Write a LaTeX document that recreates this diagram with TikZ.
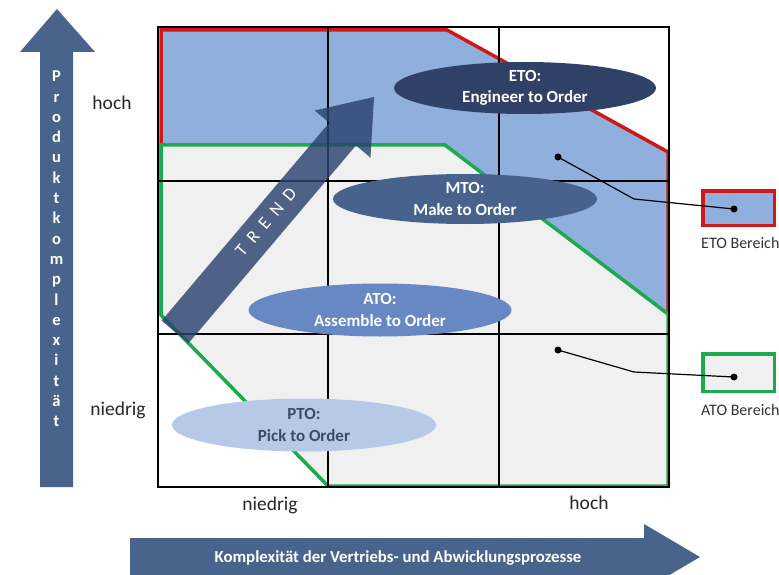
\documentclass[tikz,border=0pt]{standalone}
\usepackage{fontspec}
\setmainfont{Carlito}
\usetikzlibrary{shapes.geometric}
\definecolor{axisblue}{HTML}{48648C}
\definecolor{etoblue}{HTML}{2F4166}
\definecolor{mtoblue}{HTML}{46628D}
\definecolor{atoblue}{HTML}{6788C2}
\definecolor{ptoblue}{HTML}{B6CAE8}
\definecolor{ptotext}{HTML}{3B4B6E}
\definecolor{areablue}{HTML}{8FB0DC}
\definecolor{areagray}{HTML}{F0F0F0}
\definecolor{etored}{HTML}{D01818}
\definecolor{atogreen}{HTML}{1DAA4E}
\definecolor{trendblue}{HTML}{2B4270}
\begin{document}
\begin{tikzpicture}[x=1pt,y=-1pt,
  lab/.style={font=\fontsize{19.5}{22}\selectfont, text=black!85, inner sep=0pt},
  ell/.style={ellipse, inner sep=0pt, align=center, minimum width=263pt, minimum height=52pt, font=\fontsize{17}{21.5}\selectfont\bfseries},
  gridline/.style={line width=1.4pt, black},
  axisarrow/.style={fill=axisblue},
  dotnode/.style={circle, fill=black, minimum size=7pt, inner sep=0pt},
  conn/.style={line width=1.2pt, black},
  legbox/.style={line width=3.5pt, minimum width=71.5pt, inner sep=0pt},
  leglab/.style={font=\fontsize{16}{18}\selectfont, text=black!80, inner sep=0pt, anchor=west}]
\useasboundingbox (0,0) rectangle (779,575);

% axis arrows
\fill[axisarrow] (40,487) -- (40,52) -- (20,52) -- (57,9) -- (95,52) -- (73,52) -- (73,487) -- cycle;
\node[inner sep=0pt, align=center, text=white, font=\fontsize{16.5}{20.3}\selectfont\bfseries] (yaxis) at (56.5,249)
  {P\\r\\o\\d\\u\\k\\t\\k\\o\\m\\p\\l\\e\\x\\i\\t\\ä\\t};
\fill[axisarrow] (130,538) -- (644,538) -- (644,524) -- (700,557) -- (644,590) -- (644,576) -- (130,576) -- cycle;
\node[inner sep=0pt, text=white, font=\fontsize{16.8}{19}\selectfont\bfseries] (xaxis) at (398,558)
  {Komplexität der Vertriebs- und Abwicklungsprozesse};

% axis labels
\node[lab] (yhigh) at (112,103) {hoch};
\node[lab] (ylow) at (118,410) {niedrig};
\node[lab] (xlow) at (270,505) {niedrig};
\node[lab] (xhigh) at (589,503) {hoch};

% areas
\fill[areablue] (161,30) -- (447,30) -- (668,152) -- (668,486) -- (328,486) -- (161,315) -- cycle;
\draw[etored, line width=3.5pt, line join=miter] (161,315) -- (161,30) -- (447,30) -- (668,152) -- (668,486);
\fill[areagray] (161,145) -- (445,145) -- (668,314) -- (668,486) -- (328,486) -- (161,315) -- cycle;
\draw[atogreen, line width=3.5pt, line join=miter] (161,145) -- (445,145) -- (668,314) -- (668,486) -- (328,486) -- (161,315) -- cycle;

% grid
\draw[gridline] (158,27) rectangle (669,487);
\draw[gridline] (328,27) -- (328,487) (499,27) -- (499,487);
\draw[gridline] (158,181) -- (669,181) (158,334) -- (669,334);

% trend arrow
\fill[trendblue, fill opacity=0.82] (161.6,320.7) -- (329.2,122.8) -- (314.7,110.5) -- (374,97) -- (370.5,157.7) -- (356,145.4) -- (188.4,343.3) -- cycle;
\node[rotate=49.7, text=white, inner sep=0pt, font=\fontsize{18}{20}\selectfont] (trend) at (266,222)
  {T\kern8.5pt R\kern8.5pt E\kern8.5pt N\kern8.5pt D};

% ellipses
\node[ell, fill=etoblue, text=white, minimum width=262pt] (eto) at (525,88) {ETO:\\Engineer to Order};
\node[ell, fill=mtoblue, text=white, minimum width=264pt, minimum height=50pt] (mto) at (465,199) {MTO:\\Make to Order};
\node[ell, fill=atoblue, text=white, minimum height=53pt] (ato) at (380,310) {ATO:\\Assemble to Order};
\node[ell, fill=ptoblue, text=ptotext, minimum width=264pt, minimum height=53pt] (pto) at (304,425) {PTO:\\Pick to Order};

% legend
\node[legbox, draw=etored, fill=areablue, minimum height=34.5pt] (etobox) at (738.5,208) {};
\node[legbox, draw=atogreen, fill=areagray, minimum height=37.5pt] (atobox) at (738.5,372.5) {};
\node[leglab] (etolab) at (701,243) {ETO Bereich};
\node[leglab] (atolab) at (701,410) {ATO Bereich};

\node[dotnode] (etosrc) at (558,157) {};
\node[dotnode] (etodot) at (734,209) {};
\node[dotnode] (atosrc) at (558,350) {};
\node[dotnode] (atodot) at (734,377) {};
\coordinate (etobend) at (634,199);
\coordinate (atobend) at (634,372);
\draw[conn] (etosrc.center) -- (etobend) -- (etodot.center);
\draw[conn] (atosrc.center) -- (atobend) -- (atodot.center);
\end{tikzpicture}
\end{document}
